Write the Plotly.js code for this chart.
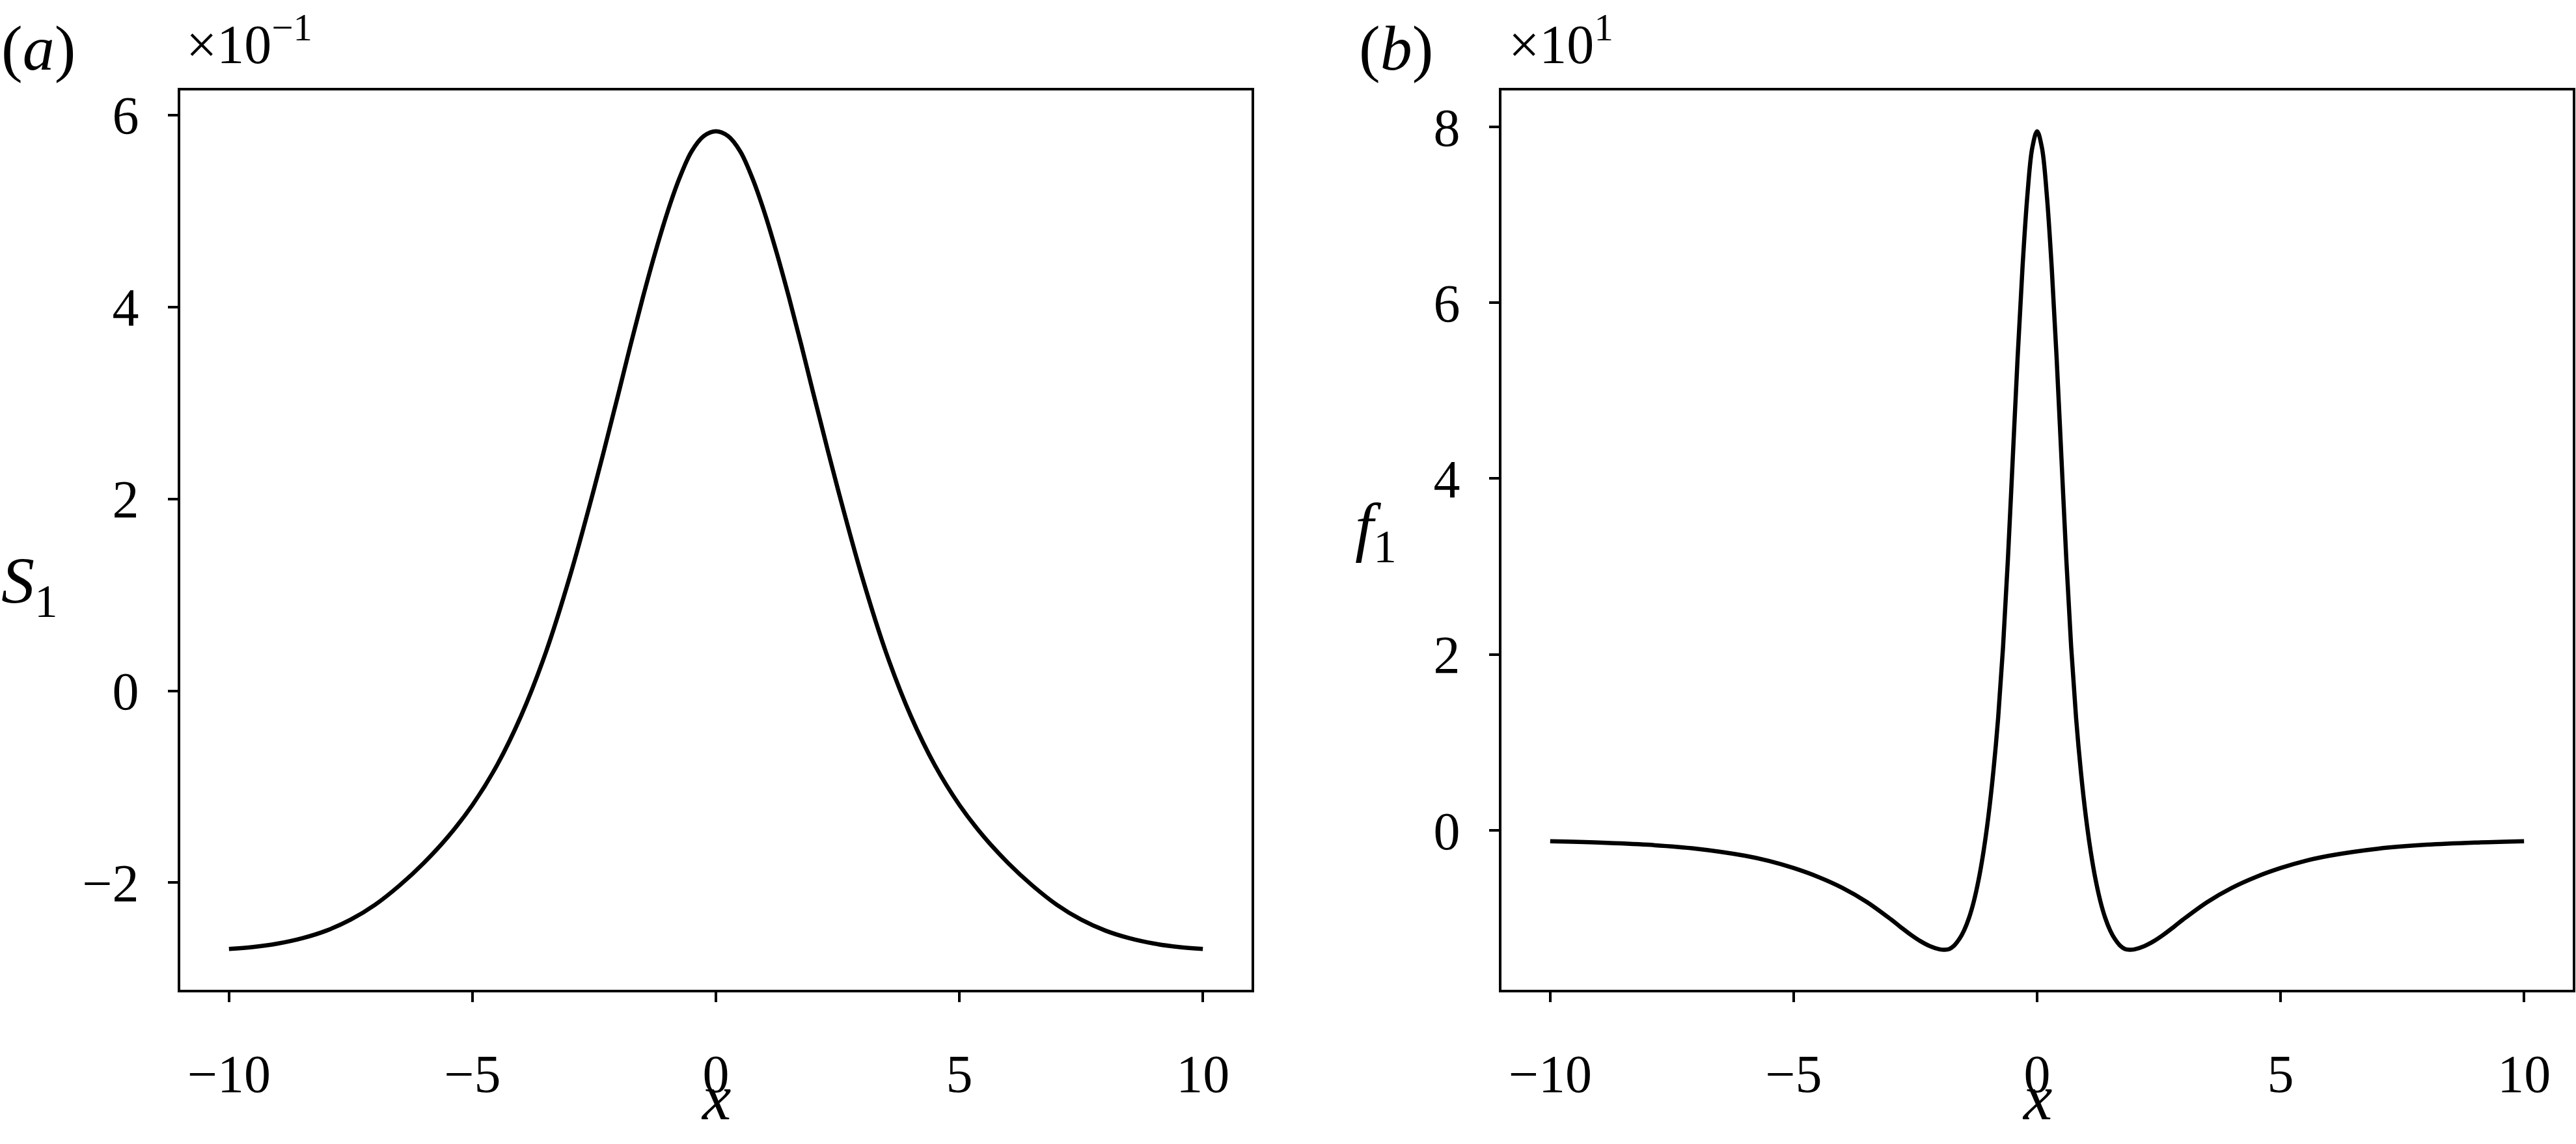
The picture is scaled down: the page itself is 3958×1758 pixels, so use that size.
<!DOCTYPE html>
<html>
<head>
<meta charset="utf-8">
<script src="https://cdn.plot.ly/plotly-3.0.1.min.js"></script>
<style>html,body{margin:0;padding:0;background:#fff;}#chart{width:3958px;height:1758px;}</style>
</head>
<body>
<div id="chart"></div>
<script>
// Panel (a): S1 versus x (true values; axis shows x10^-1)
var xS = [-10, -9.5, -9, -8.5, -8, -7.5, -7, -6.5, -6, -5.5, -5, -4.5, -4, -3.5, -3, -2.5, -2, -1.75, -1.5, -1.25, -1, -0.75, -0.5, -0.25, 0,
          0.25, 0.5, 0.75, 1, 1.25, 1.5, 1.75, 2, 2.5, 3, 3.5, 4, 4.5, 5, 5.5, 6, 6.5, 7, 7.5, 8, 8.5, 9, 9.5, 10];
var S1 = [-0.2690, -0.2670, -0.2635, -0.2580, -0.2500, -0.2385, -0.2230, -0.2030, -0.1795, -0.1520, -0.1190, -0.0780, -0.0260, 0.0390, 0.1190, 0.2110, 0.3100, 0.3610, 0.4100, 0.4560, 0.4980, 0.5340, 0.5620, 0.5780, 0.5830,
          0.5780, 0.5620, 0.5340, 0.4980, 0.4560, 0.4100, 0.3610, 0.3100, 0.2110, 0.1190, 0.0390, -0.0260, -0.0780, -0.1190, -0.1520, -0.1795, -0.2030, -0.2230, -0.2385, -0.2500, -0.2580, -0.2635, -0.2670, -0.2690];

// Panel (b): f1 versus x (true values; axis shows x10^1)
var xF = [-10, -9, -8, -7, -6, -5.5, -5, -4.5, -4, -3.5, -3, -2.8, -2.6, -2.4, -2.2, -2, -1.9, -1.8, -1.7, -1.6, -1.5, -1.4, -1.3, -1.2, -1.1, -1, -0.9, -0.8, -0.7, -0.6, -0.5, -0.4, -0.3, -0.2, -0.1, 0,
          0.1, 0.2, 0.3, 0.4, 0.5, 0.6, 0.7, 0.8, 0.9, 1, 1.1, 1.2, 1.3, 1.4, 1.5, 1.6, 1.7, 1.8, 1.9, 2, 2.2, 2.4, 2.6, 2.8, 3, 3.5, 4, 4.5, 5, 5.5, 6, 7, 8, 9, 10];
var f1 = [-1.25, -1.4, -1.65, -2.1, -2.9, -3.5, -4.3, -5.3, -6.55, -8.15, -10.15, -11.03, -11.87, -12.61, -13.19, -13.55, -13.6, -13.5, -13.1, -12.4, -11.4, -10.0, -8.1, -5.6, -2.4, 1.6, 6.6, 12.8, 20.8, 30.8, 42.3, 53.8, 64.0, 72.2, 77.6, 79.5,
          77.6, 72.2, 64.0, 53.8, 42.3, 30.8, 20.8, 12.8, 6.6, 1.6, -2.4, -5.6, -8.1, -10.0, -11.4, -12.4, -13.1, -13.5, -13.6, -13.55, -13.19, -12.61, -11.87, -11.03, -10.15, -8.15, -6.55, -5.3, -4.3, -3.5, -2.9, -2.1, -1.65, -1.4, -1.25];

// Ticks
var xTickVals = [-10, -5, 0, 5, 10];
var xTickText = ['\u221210', '\u22125', '0', '5', '10'];
var sTickVals = [-0.2, 0, 0.2, 0.4, 0.6];
var sTickText = ['\u22122', '0', '2', '4', '6'];
var fTickVals = [0, 20, 40, 60, 80];
var fTickText = ['0', '2', '4', '6', '8'];

var FONT = 'Liberation Serif';
var W = 3958, H = 1758;
function px(v) { return v / W; }
function py(v) { return 1 - v / H; }

var lineStyle = {color: '#000', width: 6.5, shape: 'spline', smoothing: 1};
var traces = [
  {x: xS, y: S1, type: 'scatter', mode: 'lines', line: lineStyle, xaxis: 'x', yaxis: 'y', hoverinfo: 'skip'},
  {x: xF, y: f1, type: 'scatter', mode: 'lines', line: lineStyle, xaxis: 'x2', yaxis: 'y2', hoverinfo: 'skip'}
];

function axisBase() {
  return {
    showline: true, linecolor: '#000', linewidth: 4, mirror: true,
    ticks: 'outside', ticklen: 15, tickwidth: 4, tickcolor: '#000',
    showgrid: false, zeroline: false, automargin: false,
    tickfont: {family: FONT, size: 82, color: '#000'},
    tickmode: 'array', fixedrange: true
  };
}
var yDom = [(H - 1521) / H, (H - 139) / H];

var xa = Object.assign(axisBase(), {domain: [px(277), px(1923)], range: [-11, 11], tickvals: xTickVals, ticktext: xTickText, anchor: 'y', ticklabelstandoff: 40});
var xb = Object.assign(axisBase(), {domain: [px(2307), px(3953)], range: [-11, 11], tickvals: xTickVals, ticktext: xTickText, anchor: 'y2', ticklabelstandoff: 40});
var ya = Object.assign(axisBase(), {domain: yDom, range: [-0.3116, 0.6256], tickvals: sTickVals, ticktext: sTickText, anchor: 'x', ticklabelstandoff: 28});
var yb = Object.assign(axisBase(), {domain: yDom, range: [-18.15, 84.15], tickvals: fTickVals, ticktext: fTickText, anchor: 'x2', ticklabelstandoff: 28});

function ann(text, x, y, size, xanchor) {
  return {text: text, xref: 'paper', yref: 'paper', x: px(x), y: py(y), xanchor: xanchor || 'left', yanchor: 'middle',
          showarrow: false, font: {family: FONT, size: size, color: '#000'}};
}

var annotations = [
  ann('(<i>a</i>)', 0, 74, 98),
  ann('\u00d710<sup>\u22121</sup>', 284, 62, 84),
  ann('(<i>b</i>)', 2086, 74, 98),
  ann('\u00d710<sup>1</sup>', 2316, 62, 84),
  ann('<i>S</i><sub>1</sub>', 0, 900, 102),
  ann('<i>f</i><sub>1</sub>', 2080, 815, 102),
  ann('<i>x</i>', 1100, 1686, 100, 'center'),
  ann('<i>x</i>', 3130, 1686, 100, 'center')
];

var layout = {
  width: W, height: H,
  margin: {l: 0, r: 0, t: 0, b: 0, pad: 0},
  paper_bgcolor: '#fff', plot_bgcolor: '#fff',
  font: {family: FONT, color: '#000'},
  showlegend: false,
  xaxis: xa, yaxis: ya, xaxis2: xb, yaxis2: yb,
  annotations: annotations
};

Plotly.newPlot('chart', traces, layout, {staticPlot: true, displayModeBar: false});
</script>
</body>
</html>
